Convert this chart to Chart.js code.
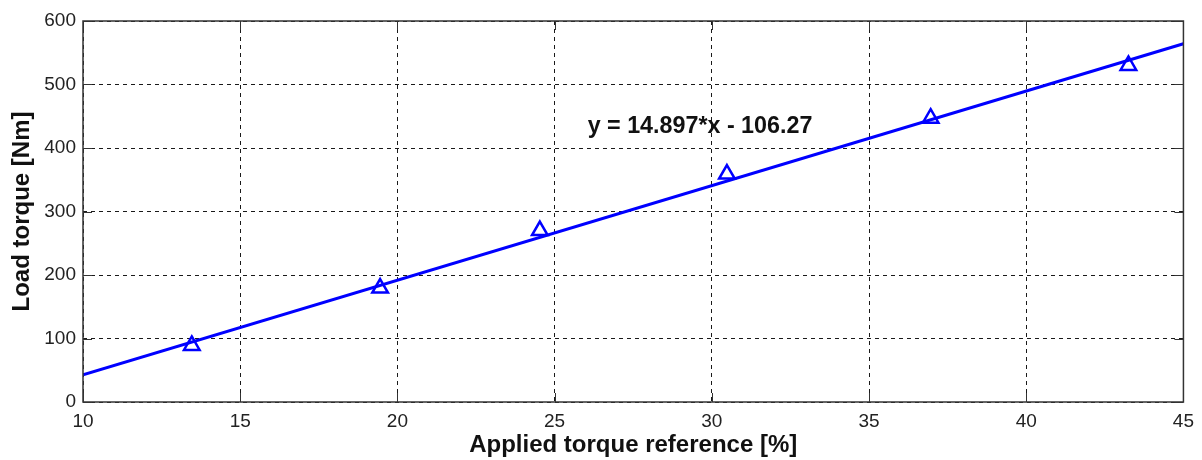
<!DOCTYPE html>
<html>
<head>
<meta charset="utf-8">
<script src="https://cdn.jsdelivr.net/npm/chart.js@4"></script>
<style>
  html, body { margin: 0; padding: 0; background: #fff; }
  #wrap { width: 1202px; height: 460px; }
</style>
</head>
<body>
<div id="wrap"><canvas id="torqueChart" width="1202" height="460"></canvas></div>
<script>
// measured points: applied torque reference [%] vs load torque [Nm]
const refPercent = [13.46, 19.45, 24.53, 30.48, 36.96, 43.25];
const loadTorque = [89, 179.5, 270, 359, 447, 530];

// linear fit shown on the plot
const fitSlope = 14.897;
const fitIntercept = -106.27;
const fitX = [10, 45];
const fitLabel = 'y = 14.897*x - 106.27';
const labelPos = { x: 26.05, y: 434 };

const xTicks = [10, 15, 20, 25, 30, 35, 40, 45];
const yTicks = [0, 100, 200, 300, 400, 500, 600];

const fitLine = fitX.map(x => ({ x: x, y: fitSlope * x + fitIntercept }));
const points = refPercent.map((x, i) => ({ x: x, y: loadTorque[i] }));

let axisColor = '#333';
let tickLen = 9;

// box around the plot area with inward tick marks on all sides
const boxPlugin = {
    id: 'boxPlugin',
    afterDatasetsDraw(chart) {
        const ctx = chart.ctx;
        const a = chart.chartArea;
        const xs = chart.scales.x;
        const ys = chart.scales.y;
        ctx.save();
        ctx.strokeStyle = axisColor;
        ctx.lineWidth = 1.5;
        ctx.setLineDash([]);
        ctx.strokeRect(a.left, a.top, a.right - a.left, a.bottom - a.top);
        ctx.lineWidth = 1;
        ctx.beginPath();
        xTicks.forEach(t => {
            let px = Math.round(xs.getPixelForValue(t)) + 0.5;
            ctx.moveTo(px, a.bottom); ctx.lineTo(px, a.bottom - tickLen);
            ctx.moveTo(px, a.top); ctx.lineTo(px, a.top + tickLen);
        });
        yTicks.forEach(t => {
            let py = Math.round(ys.getPixelForValue(t)) + 0.5;
            ctx.moveTo(a.left, py); ctx.lineTo(a.left + tickLen, py);
            ctx.moveTo(a.right, py); ctx.lineTo(a.right - tickLen, py);
        });
        ctx.stroke();

        // equation text
        ctx.fillStyle = '#111';
        ctx.font = 'bold 23.3px "Liberation Sans", Arial, sans-serif';
        ctx.textAlign = 'left';
        ctx.textBaseline = 'middle';
        ctx.fillText(fitLabel, xs.getPixelForValue(labelPos.x), ys.getPixelForValue(labelPos.y));
        ctx.restore();
    }
};

const tickFont = { family: '"Liberation Sans", Arial, sans-serif', size: 19 };
const titleFont = { family: '"Liberation Sans", Arial, sans-serif', size: 24, weight: 'bold' };

new Chart(document.getElementById('torqueChart'), {
    type: 'scatter',
    data: {
        datasets: [{
            label: 'fit',
            data: fitLine,
            showLine: true,
            borderColor: '#0000ff',
            borderWidth: 3,
            pointRadius: 0,
            order: 2
        }, {
            label: 'measured',
            data: points,
            showLine: false,
            pointStyle: 'triangle',
            pointRadius: 9,
            pointBorderWidth: 2.5,
            pointBorderColor: '#0000ff',
            pointBackgroundColor: 'rgba(0,0,0,0)',
            order: 1
        }]
    },
    options: {
        responsive: false,
        animation: false,
        layout: { padding: { left: 0, top: 21, right: 17, bottom: 0 } },
        plugins: {
            legend: { display: false },
            tooltip: { enabled: false }
        },
        scales: {
            x: {
                type: 'linear',
                min: 10,
                max: 45,
                afterBuildTicks: (s) => { s.ticks = xTicks.map(v => ({ value: v })); },
                afterFit: (s) => { s.height = 58; },
                ticks: { font: tickFont, color: '#222', padding: 8, maxRotation: 0 },
                grid: { color: '#1a1a1a', lineWidth: 1, drawTicks: false },
                border: { display: false, dash: [4, 4] },
                title: {
                    display: true,
                    text: 'Applied torque reference [%]',
                    font: titleFont,
                    color: '#111',
                    padding: { top: 0, bottom: 0 }
                }
            },
            y: {
                type: 'linear',
                min: 0,
                max: 600,
                afterBuildTicks: (s) => { s.ticks = yTicks.map(v => ({ value: v })); },
                afterFit: (s) => { s.width = 83; },
                ticks: { font: tickFont, color: '#222', padding: 7 },
                grid: { color: '#1a1a1a', lineWidth: 1, drawTicks: false },
                border: { display: false, dash: [4, 4] },
                title: {
                    display: true,
                    text: 'Load torque [Nm]',
                    font: titleFont,
                    color: '#111',
                    padding: { top: 8, bottom: 0 }
                }
            }
        }
    },
    plugins: [boxPlugin]
});
</script>
</body>
</html>
